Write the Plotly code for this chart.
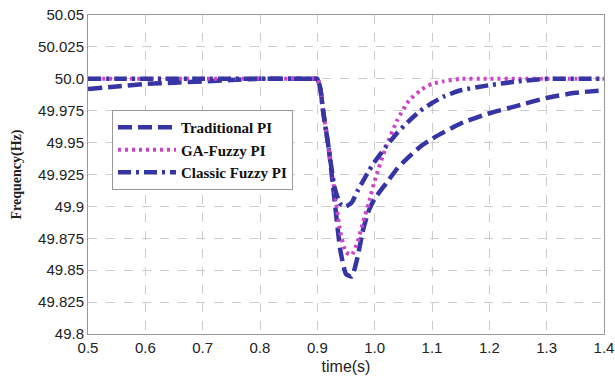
import plotly.graph_objects as go

t = [0.5, 0.55, 0.6, 0.65, 0.7, 0.75, 0.8, 0.85, 0.895, 0.9, 0.905, 0.91, 0.92, 0.93, 0.94, 0.95, 0.96,
     0.97, 0.98, 0.99, 1.0, 1.02, 1.04, 1.06, 1.08, 1.1, 1.12, 1.15, 1.2, 1.25, 1.3, 1.35, 1.4]

traditional = [49.992, 49.994, 49.996, 49.997, 49.998, 49.999, 50.0, 50.0, 50.0, 50.0, 49.993, 49.975,
               49.945, 49.905, 49.866, 49.847, 49.845, 49.860, 49.882, 49.897, 49.906, 49.918, 49.930,
               49.939, 49.947, 49.953, 49.958, 49.965, 49.973, 49.979, 49.985, 49.989, 49.991]

ga_fuzzy = [50.0, 50.0, 50.0, 50.0, 50.0, 50.0, 50.0, 50.0, 50.0, 50.0, 49.993, 49.975, 49.945, 49.912,
            49.880, 49.864, 49.862, 49.872, 49.888, 49.903, 49.920, 49.947, 49.968, 49.983, 49.991,
            49.996, 49.998, 50.0, 50.0, 50.0, 50.0, 50.0, 50.0]

classic = [50.0, 50.0, 50.0, 50.0, 50.0, 50.0, 50.0, 50.0, 50.0, 50.0, 49.993, 49.975, 49.945, 49.915,
           49.902, 49.900, 49.903, 49.912, 49.920, 49.928, 49.935, 49.947, 49.958, 49.967, 49.975,
           49.981, 49.986, 49.991, 49.995, 49.998, 50.0, 50.0, 50.0]

x_ticks = [0.5, 0.6, 0.7, 0.8, 0.9, 1.0, 1.1, 1.2, 1.3, 1.4]
x_labels = ["0.5", "0.6", "0.7", "0.8", "0.9", "1.0", "1.1", "1.2", "1.3", "1.4"]
y_ticks = [49.8, 49.825, 49.85, 49.875, 49.9, 49.925, 49.95, 49.975, 50.0, 50.025, 50.05]
y_labels = ["49.8", "49.825", "49.85", "49.875", "49.9", "49.925", "49.95", "49.975", "50.0",
            "50.025", "50.05"]

blue = "#3535a5"
magenta = "#cc44c8"

fig = go.Figure()
fig.add_trace(go.Scatter(x=t, y=traditional, mode="lines", name="Traditional PI",
                         line=dict(color=blue, width=4.5, dash="14px,6px", shape="spline", smoothing=0.5)))
fig.add_trace(go.Scatter(x=t, y=ga_fuzzy, mode="lines", name="GA-Fuzzy PI",
                         line=dict(color=magenta, width=4, dash="3px,4px", shape="spline", smoothing=0.5)))
fig.add_trace(go.Scatter(x=t, y=classic, mode="lines", name="Classic Fuzzy PI",
                         line=dict(color=blue, width=4.5, dash="13px,5px,3px,5px", shape="spline", smoothing=0.5)))

axis_common = dict(showline=True, linecolor="#999999", linewidth=1, mirror=True,
                   showgrid=True, gridcolor="#cccccc", griddash="dash", gridwidth=1,
                   zeroline=False, ticks="", automargin=False,
                   tickfont=dict(family="Liberation Sans", size=15, color="#222222"))

fig.update_xaxes(range=[0.5, 1.4], tickvals=x_ticks, ticktext=x_labels,
                 title=dict(text="time(s)", font=dict(family="Liberation Sans", size=16, color="#222222"),
                            standoff=5), **axis_common)
fig.update_yaxes(range=[49.8, 50.05], tickvals=y_ticks, ticktext=y_labels,
                 title=dict(text="<b>Frequency(Hz)</b>", font=dict(family="Liberation Serif", size=14, color="#222222"),
                            standoff=13), **axis_common)

fig.update_layout(
    width=615, height=382,
    margin=dict(l=88, r=11, t=15, b=48),
    plot_bgcolor="white", paper_bgcolor="white",
    legend=dict(x=0.0465, y=0.702, xanchor="left", yanchor="top",
                bgcolor="white", bordercolor="#999999", borderwidth=1,
                font=dict(family="Liberation Serif", size=15, color="#111111", weight="bold"),
                itemwidth=58, tracegroupgap=0),
    showlegend=True,
)

fig.write_html("out.html", config={"displayModeBar": False},
               post_script="document.body.style.margin='0';document.body.style.overflow='hidden';")
